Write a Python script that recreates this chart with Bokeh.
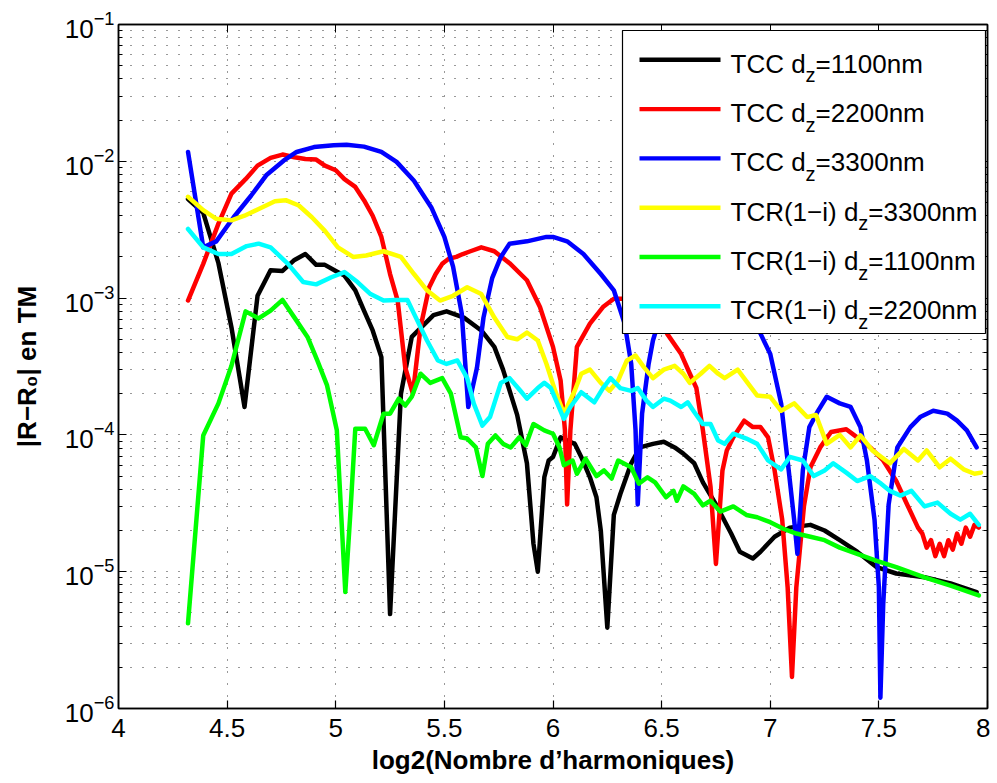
from bokeh.plotting import figure
from bokeh.models import (FixedTicker, LinearAxis, LogAxis, Label, BoxAnnotation,
                          CustomJSTickFormatter, Range1d)
from bokeh.embed import file_html
from bokeh.resources import INLINE

# ---------------- data ----------------
black_x = [4.32, 4.39, 4.46, 4.52, 4.58, 4.64, 4.70, 4.755, 4.81, 4.86, 4.91, 4.95, 5.00, 5.04, 5.09,
           5.13, 5.17, 5.21, 5.25, 5.30, 5.35, 5.45, 5.51, 5.59, 5.67, 5.73, 5.77, 5.835, 5.88, 5.91,
           5.93, 5.96, 5.98, 6.00, 6.035, 6.065, 6.10, 6.13, 6.17, 6.20, 6.22, 6.25, 6.28, 6.31, 6.36,
           6.40, 6.46, 6.51, 6.56, 6.60, 6.65, 6.69, 6.75, 6.82, 6.86, 6.92, 6.955, 7.02, 7.09, 7.185,
           7.25, 7.32, 7.40, 7.49, 7.58, 7.71, 7.83, 7.95]
black_y = [5.3e-3, 4.2e-3, 1.8e-3, 6.1e-4, 1.6e-4, 1.04e-3, 1.6e-3, 1.58e-3, 1.9e-3, 2.1e-3, 1.75e-3, 1.75e-3, 1.58e-3, 1.46e-3, 1.14e-3,
           8.1e-4, 5.8e-4, 3.7e-4, 4.9e-6, 2.0e-4, 5.2e-4, 7.5e-4, 8.0e-4, 7.2e-4, 5.8e-4, 4.4e-4, 3.0e-4, 1.4e-4, 6.2e-5, 1.6e-5,
           1.0e-5, 4.9e-5, 6.5e-5, 6.9e-5, 9.6e-5, 9.1e-5, 8.6e-5, 6.9e-5, 4.9e-5, 3.5e-5, 2.0e-5, 3.9e-6, 2.6e-5, 3.7e-5, 6.2e-5,
           8.1e-5, 8.6e-5, 8.9e-5, 8.1e-5, 7.3e-5, 6.2e-5, 4.5e-5, 3.1e-5, 1.9e-5, 1.4e-5, 1.25e-5, 1.4e-5, 1.8e-5, 2.1e-5, 2.2e-5,
           2.0e-5, 1.7e-5, 1.4e-5, 1.08e-5, 9.7e-6, 9.1e-6, 8.2e-6, 7.1e-6]

red_x = [4.32, 4.39, 4.46, 4.52, 4.585, 4.64, 4.70, 4.755, 4.81, 4.86, 4.91, 4.95, 5.00, 5.04, 5.09,
         5.13, 5.17, 5.21, 5.25, 5.285, 5.32, 5.355, 5.39, 5.43, 5.46, 5.49, 5.52, 5.555, 5.585, 5.62,
         5.67, 5.73, 5.80, 5.88, 5.94, 6.00, 6.035, 6.055, 6.065, 6.08, 6.11, 6.17, 6.23, 6.28, 6.32,
         6.40, 6.46, 6.525, 6.59, 6.63, 6.66, 6.69, 6.725, 6.75, 6.78, 6.80, 6.83, 6.88, 6.92, 6.955,
         6.99, 7.02, 7.055, 7.08, 7.10, 7.12, 7.155, 7.185, 7.23, 7.28, 7.35, 7.40, 7.46, 7.52, 7.58,
         7.63, 7.68, 7.70, 7.72, 7.74, 7.76, 7.78, 7.80, 7.82, 7.84, 7.86, 7.88, 7.90, 7.92, 7.94, 7.96]
red_y = [9.6e-4, 1.78e-3, 3.5e-3, 5.8e-3, 7.4e-3, 9.3e-3, 1.06e-2, 1.12e-2, 1.07e-2, 1.04e-2, 1.03e-2, 9.3e-3, 8.6e-3, 7.4e-3, 6.5e-3,
         5.2e-3, 4.0e-3, 2.8e-3, 1.5e-3, 9.6e-4, 3.1e-4, 2.0e-4, 6.1e-4, 1.2e-3, 1.5e-3, 1.78e-3, 1.94e-3, 2.0e-3, 2.1e-3, 2.2e-3,
         2.35e-3, 2.2e-3, 1.8e-3, 1.35e-3, 8.6e-4, 4.4e-4, 2.5e-4, 1.08e-4, 3.1e-5, 1.08e-4, 4.4e-4, 6.5e-4, 8.6e-4, 9.9e-4, 9.9e-4,
         1.1e-3, 8.9e-4, 5.5e-4, 3.9e-4, 2.8e-4, 2.2e-4, 1.08e-4, 4.2e-5, 1.14e-5, 5.5e-5, 7.7e-5, 9.6e-5, 1.27e-4, 1.14e-4, 1.14e-4,
         9.6e-5, 5.5e-5, 2.4e-5, 7.7e-6, 1.7e-6, 7.7e-6, 3.0e-5, 5.8e-5, 8.1e-5, 1.05e-4, 1.1e-4, 9.6e-5, 8.1e-5, 6.5e-5, 4.6e-5,
         3.1e-5, 2.1e-5, 1.9e-5, 1.5e-5, 1.7e-5, 1.3e-5, 1.6e-5, 1.3e-5, 1.7e-5, 1.45e-5, 1.9e-5, 1.6e-5, 2.1e-5, 1.8e-5, 2.2e-5, 2.1e-5]

blue_x = [4.32, 4.39, 4.45, 4.53, 4.61, 4.68, 4.76, 4.82, 4.90, 4.99, 5.05, 5.13, 5.21, 5.28,
          5.36, 5.44, 5.50, 5.54, 5.58, 5.61, 5.65, 5.68, 5.72, 5.76, 5.80, 5.88, 5.97, 6.00, 6.065,
          6.14, 6.22, 6.28, 6.33, 6.36, 6.38, 6.39, 6.41, 6.44, 6.46, 6.52, 6.60, 6.70, 6.80, 6.90,
          6.955, 7.00, 7.05, 7.085, 7.11, 7.125, 7.15, 7.18, 7.22, 7.26, 7.32, 7.37, 7.415, 7.445, 7.48,
          7.50, 7.507, 7.52, 7.545, 7.585, 7.645, 7.69, 7.75, 7.815, 7.86, 7.905, 7.95]
blue_y = [1.17e-2, 2.35e-3, 2.6e-3, 3.9e-3, 5.6e-3, 7.9e-3, 1.01e-2, 1.17e-2, 1.27e-2, 1.31e-2, 1.32e-2, 1.28e-2, 1.17e-2, 9.9e-3,
          7.2e-3, 4.6e-3, 2.8e-3, 1.7e-3, 7.7e-4, 1.6e-4, 3.1e-4, 7.2e-4, 1.4e-3, 2.0e-3, 2.5e-3, 2.6e-3, 2.8e-3, 2.8e-3, 2.6e-3,
          2.1e-3, 1.5e-3, 1.14e-3, 6.5e-4, 3.3e-4, 1.08e-4, 3.1e-5, 1.43e-4, 3.3e-4, 4.9e-4, 1.0e-3, 1.4e-3, 1.5e-3, 1.26e-3, 8.3e-4,
          5.5e-4, 3.9e-4, 1.7e-4, 5.5e-5, 2.4e-5, 1.35e-5, 5.5e-5, 1.14e-4, 1.5e-4, 1.9e-4, 1.7e-4, 1.6e-4, 1.14e-4, 6.5e-5, 2.4e-5,
          7.7e-6, 1.2e-6, 5.8e-6, 3.1e-5, 8.1e-5, 1.14e-4, 1.35e-4, 1.5e-4, 1.43e-4, 1.27e-4, 1.08e-4, 8.1e-5]

yellow_x = [4.32, 4.39, 4.45, 4.52, 4.58, 4.66, 4.72, 4.77, 4.83, 4.89, 4.95, 5.01, 5.08, 5.14, 5.22,
            5.30, 5.36, 5.42, 5.48, 5.54, 5.605, 5.67, 5.73, 5.79, 5.835, 5.88, 5.93, 5.97, 6.01, 6.05,
            6.10, 6.13, 6.17, 6.22, 6.26, 6.30, 6.34, 6.38, 6.42, 6.46, 6.51, 6.56, 6.60, 6.63, 6.68,
            6.72, 6.76, 6.79, 6.85, 6.94, 7.00, 7.05, 7.11, 7.17, 7.21, 7.26, 7.32, 7.37, 7.415, 7.47,
            7.55, 7.615, 7.68, 7.72, 7.78, 7.83, 7.89, 7.94, 7.97]
yellow_y = [5.5e-3, 4.4e-3, 3.8e-3, 3.7e-3, 4.0e-3, 4.6e-3, 5.1e-3, 5.2e-3, 4.75e-3, 3.9e-3, 3.1e-3, 2.35e-3, 2.0e-3, 2.05e-3, 2.2e-3,
            2.0e-3, 1.5e-3, 1.14e-3, 9.6e-4, 1.04e-3, 1.2e-3, 1.07e-3, 7.2e-4, 5.2e-4, 5.0e-4, 5.6e-4, 4.9e-4, 3.3e-4, 2.1e-4, 1.43e-4,
            2.1e-4, 2.8e-4, 3.0e-4, 2.4e-4, 2.1e-4, 2.5e-4, 3.5e-4, 3.8e-4, 3.1e-4, 2.6e-4, 3.0e-4, 3.2e-4, 2.8e-4, 2.4e-4, 2.8e-4,
            3.2e-4, 2.8e-4, 2.6e-4, 3.0e-4, 1.94e-4, 1.9e-4, 1.5e-4, 1.7e-4, 1.35e-4, 1.4e-4, 8.6e-5, 1.0e-4, 8.1e-5, 9.9e-5, 7.7e-5,
            6.2e-5, 7.9e-5, 6.5e-5, 7.7e-5, 5.8e-5, 6.7e-5, 5.6e-5, 5.2e-5, 5.3e-5]

green_x = [4.32, 4.39, 4.46, 4.52, 4.585, 4.645, 4.70, 4.755, 4.81, 4.87, 4.915, 4.96, 5.005, 5.025, 5.044,
           5.067, 5.09, 5.135, 5.175, 5.22, 5.25, 5.29, 5.32, 5.35, 5.39, 5.435, 5.49, 5.53, 5.575, 5.605,
           5.645, 5.675, 5.70, 5.735, 5.77, 5.805, 5.845, 5.875, 5.91, 5.96, 6.00, 6.03, 6.05, 6.09, 6.11,
           6.15, 6.20, 6.235, 6.27, 6.30, 6.36, 6.395, 6.435, 6.47, 6.52, 6.555, 6.57, 6.60, 6.65, 6.69,
           6.725, 6.77, 6.83, 6.89, 6.94, 7.00, 7.06, 7.12, 7.185, 7.25, 7.32, 7.40, 7.49, 7.58, 7.71,
           7.83, 7.96]
green_y = [4.2e-6, 9.9e-5, 1.7e-4, 3.2e-4, 8.0e-4, 7.1e-4, 8.1e-4, 9.7e-4, 7.2e-4, 5.2e-4, 3.5e-4, 2.3e-4, 1.08e-4, 2.65e-5, 7.1e-6,
           2.65e-5, 1.11e-4, 1.11e-4, 8.4e-5, 1.43e-4, 1.43e-4, 1.84e-4, 1.64e-4, 1.9e-4, 2.8e-4, 2.4e-4, 2.6e-4, 2.0e-4, 9.6e-5, 9.4e-5,
           8.1e-5, 5.0e-5, 8.6e-5, 9.9e-5, 8.6e-5, 8.1e-5, 9.6e-5, 8.4e-5, 1.2e-4, 1.08e-4, 1.02e-4, 8.1e-5, 6.0e-5, 6.5e-5, 5.2e-5,
           6.7e-5, 5.0e-5, 5.5e-5, 4.8e-5, 6.5e-5, 5.8e-5, 4.4e-5, 4.9e-5, 4.5e-5, 3.5e-5, 3.9e-5, 3.3e-5, 4.2e-5, 3.7e-5, 3.05e-5,
           3.3e-5, 2.75e-5, 3.0e-5, 2.6e-5, 2.5e-5, 2.3e-5, 2.06e-5, 1.9e-5, 1.8e-5, 1.7e-5, 1.5e-5, 1.35e-5, 1.2e-5, 1.08e-5, 9.1e-6,
           7.9e-6, 6.7e-6]

cyan_x = [4.32, 4.39, 4.46, 4.52, 4.59, 4.645, 4.70, 4.78, 4.85, 4.91, 4.98, 5.04, 5.10, 5.16, 5.22,
          5.28, 5.33, 5.36, 5.42, 5.47, 5.51, 5.56, 5.605, 5.635, 5.675, 5.71, 5.76, 5.80, 5.85, 5.88,
          5.93, 5.96, 5.99, 6.02, 6.05, 6.08, 6.13, 6.19, 6.23, 6.265, 6.31, 6.36, 6.39, 6.43, 6.46,
          6.51, 6.54, 6.59, 6.62, 6.65, 6.69, 6.725, 6.76, 6.79, 6.83, 6.89, 6.94, 6.99, 7.05, 7.09,
          7.15, 7.20, 7.25, 7.29, 7.35, 7.40, 7.46, 7.51, 7.55, 7.60, 7.65, 7.71, 7.77, 7.83, 7.875,
          7.92, 7.96]
cyan_y = [3.2e-3, 2.35e-3, 2.1e-3, 2.1e-3, 2.4e-3, 2.5e-3, 2.35e-3, 1.78e-3, 1.31e-3, 1.26e-3, 1.42e-3, 1.55e-3, 1.31e-3, 1.07e-3, 9.6e-4,
          9.7e-4, 9.7e-4, 7.7e-4, 4.9e-4, 3.5e-4, 3.3e-4, 3.5e-4, 2.6e-4, 1.7e-4, 1.17e-4, 1.35e-4, 2.4e-4, 2.6e-4, 2.1e-4, 1.84e-4,
          2.2e-4, 2.4e-4, 2.2e-4, 1.7e-4, 1.31e-4, 1.6e-4, 2.05e-4, 1.73e-4, 2.2e-4, 2.6e-4, 2.2e-4, 2.1e-4, 2.2e-4, 1.78e-4, 1.6e-4,
          1.84e-4, 1.78e-4, 1.6e-4, 1.73e-4, 1.47e-4, 1.2e-4, 1.2e-4, 9.1e-5, 8.6e-5, 1.02e-4, 9.4e-5, 8.6e-5, 6.5e-5, 5.6e-5, 6.9e-5,
          6.5e-5, 5.0e-5, 5.5e-5, 6.2e-5, 5.3e-5, 4.6e-5, 5.0e-5, 4.4e-5, 3.9e-5, 3.6e-5, 3.9e-5, 3.0e-5, 3.2e-5, 2.65e-5, 2.4e-5,
          2.65e-5, 2.2e-5]

x_ticks = [4, 4.5, 5, 5.5, 6, 6.5, 7, 7.5, 8]
x_tick_labels = ["4", "4.5", "5", "5.5", "6", "6.5", "7", "7.5", "8"]
y_ticks = [1e-6, 1e-5, 1e-4, 1e-3, 1e-2, 1e-1]
x_label = "log2(Nombre d\u2019harmoniques)"
y_label = "|R\u2212R\u2080| en TM"
legend_methods = ["TCC", "TCC", "TCC", "TCR(1\u2212i)", "TCR(1\u2212i)", "TCR(1\u2212i)"]
legend_dz = ["1100nm", "2200nm", "3300nm", "3300nm", "1100nm", "2200nm"]
colors = ["#000000", "#ff0000", "#0000ff", "#ffff00", "#00ff00", "#00ffff"]

# ---------------- layout / style ----------------
FONT = "Liberation Sans"
FS = 26
AW = {'T': .611, 'C': .722, 'R': .722, ' ': .278, 'd': .556, '(': .333, '1': .556, '\u2212': .584,
      'i': .222, ')': .333, 'z': .5, '=': .584, '0': .556, '2': .556, '3': .556, 'n': .556, 'm': .833}


def tw(s, size, table):
    return sum(table.get(c, 0.556) for c in s) * size


p = figure(frame_width=869, frame_height=684, x_range=Range1d(4, 8), y_range=Range1d(1e-6, 1e-1),
           y_axis_type="log", output_backend="svg", toolbar_location=None, title=None,
           min_border_left=118, min_border_right=3, min_border_top=24, min_border_bottom=0,
           background_fill_color="white", border_fill_color="white")
p.outline_line_color = "black"
p.outline_line_width = 1.5
p.outline_line_alpha = 1.0

minor = [m * 10.0 ** e for e in range(-6, -1) for m in range(2, 10)]
xt = FixedTicker(ticks=x_ticks, minor_ticks=[])
yt = FixedTicker(ticks=y_ticks, minor_ticks=minor)

xa = p.xaxis[0]
ya = p.yaxis[0]
xa.ticker = xt
ya.ticker = yt
xa.major_label_overrides = {t: l for t, l in zip(x_ticks, x_tick_labels)}
for ax in (xa, ya):
    ax.major_tick_in = 8
    ax.major_tick_out = 0
    ax.minor_tick_in = 4
    ax.minor_tick_out = 0
    ax.axis_line_width = 1.5
    ax.axis_line_color = "black"
    ax.major_tick_line_color = "black"
    ax.minor_tick_line_color = "black"
    ax.major_tick_line_width = 1.2
    ax.major_label_text_font = FONT
    ax.major_label_text_font_size = f"{FS}px"
    ax.major_label_text_color = "black"
    ax.axis_label_text_font = FONT
    ax.axis_label_text_font_size = f"{FS}px"
    ax.axis_label_text_font_style = "bold"
    ax.axis_label_text_color = "black"
xa.major_label_standoff = 10
ya.major_label_standoff = 4
xa.axis_label = x_label
xa.axis_label_standoff = 5
ya.axis_label = y_label
ya.axis_label_standoff = 20

blank = CustomJSTickFormatter(code="return ''")
top = LinearAxis(ticker=xt, formatter=blank, major_tick_in=8, major_tick_out=0,
                 minor_tick_in=0, minor_tick_out=0, axis_line_width=1.5,
                 major_label_standoff=0, major_label_text_font_size="1px")
p.add_layout(top, "above")
right = LogAxis(ticker=yt, formatter=blank, major_tick_in=8, major_tick_out=0,
                minor_tick_in=4, minor_tick_out=0, axis_line_width=1.5,
                major_label_standoff=0, major_label_text_font_size="1px")
p.add_layout(right, "right")

p.xgrid.ticker = xt
p.ygrid.ticker = yt
for g in (p.xgrid[0], p.ygrid[0]):
    g.grid_line_color = "black"
    g.grid_line_alpha = 0.8
    g.grid_line_dash = "1 11"
    g.grid_line_width = 1
p.ygrid[0].minor_grid_line_color = "black"
p.ygrid[0].minor_grid_line_alpha = 0.8
p.ygrid[0].minor_grid_line_dash = "1 11"
p.ygrid[0].minor_grid_line_width = 1

series = [(black_x, black_y), (red_x, red_y), (blue_x, blue_y),
          (yellow_x, yellow_y), (green_x, green_y), (cyan_x, cyan_y)]
for (xs, ys), c in zip(series, colors):
    p.line(xs, ys, line_color=c, line_width=4.5, line_join="round", line_cap="round")

# ---------------- legend (frame-relative screen units, y up) ----------------
SU = dict(left_units="screen", right_units="screen", bottom_units="screen", top_units="screen")
p.add_layout(BoxAnnotation(left=504, right=867, bottom=375, top=678, fill_color="white", fill_alpha=1.0,
                           line_color="black", line_width=1.2, line_alpha=1.0, **SU))
for i, (meth, dz, c) in enumerate(zip(legend_methods, legend_dz, colors)):
    yc = 648.7 - 49.3 * i
    p.add_layout(BoxAnnotation(left=521, right=602, bottom=yc - 2.2, top=yc + 2.2, fill_color=c,
                               fill_alpha=1.0, line_color=None, **SU))
    main = meth + " d"
    x0 = 612
    p.add_layout(Label(x=x0, y=yc - 4, x_units="screen", y_units="screen", text=main,
                       text_font=FONT, text_font_size=f"{FS}px", text_color="black",
                       text_align="left", text_baseline="alphabetic"))
    x1 = x0 + tw(main, FS, AW)
    p.add_layout(Label(x=x1, y=yc - 15.5, x_units="screen", y_units="screen", text="z",
                       text_font=FONT, text_font_size="20px", text_color="black",
                       text_align="left", text_baseline="alphabetic"))
    x2 = x1 + tw("z", 20, AW)
    p.add_layout(Label(x=x2, y=yc - 4, x_units="screen", y_units="screen", text="=" + dz,
                       text_font=FONT, text_font_size=f"{FS}px", text_color="black",
                       text_align="left", text_baseline="alphabetic"))

open("out.html", "w", encoding="utf-8").write(file_html(p, INLINE, title="chart"))
